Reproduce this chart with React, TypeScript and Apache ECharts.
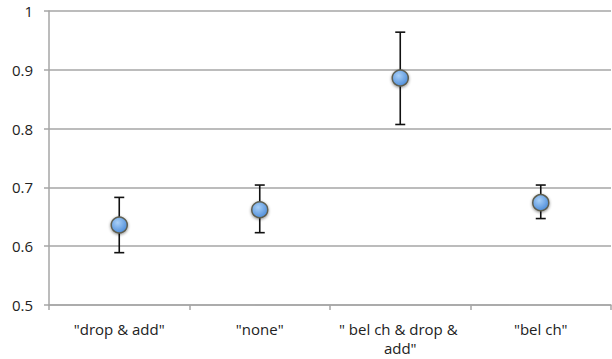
import React, { useEffect, useRef } from "react";
import * as echarts from "echarts";

const categories = ['"drop & add"', '"none"', '" bel ch & drop & add"', '"bel ch"'];
const means = [0.636, 0.662, 0.886, 0.674];
const lows = [0.589, 0.623, 0.807, 0.647];
const highs = [0.683, 0.704, 0.964, 0.704];
const yMin = 0.5;
const yMax = 1;
const yInterval = 0.1;

export default function App() {
  const ref = useRef<HTMLDivElement>(null);
  useEffect(() => {
    if (!ref.current) return;
    const chart = echarts.init(ref.current, null, { renderer: "svg" });
    const font = "'Open Sans', 'Liberation Sans', sans-serif";
    chart.setOption({
      animation: false,
      grid: { left: 49, right: 1, top: 11, bottom: 54, containLabel: false },
      xAxis: {
        type: "category",
        data: categories,
        boundaryGap: true,
        axisLine: { show: true, lineStyle: { color: "#a6a6a6", width: 1.5 } },
        axisTick: { show: true, length: 5, lineStyle: { color: "#a6a6a6", width: 1.5 } },
        axisLabel: {
          interval: 0,
          margin: 14,
          color: "#222",
          fontSize: 15,
          fontFamily: font,
          width: 135,
          overflow: "break",
          lineHeight: 19,
        },
        splitLine: { show: false },
      },
      yAxis: {
        type: "value",
        min: yMin,
        max: yMax,
        interval: yInterval,
        axisLine: { show: true, lineStyle: { color: "#a6a6a6", width: 1.5 } },
        axisTick: { show: true, length: 5, lineStyle: { color: "#a6a6a6", width: 1.5 } },
        axisLabel: { color: "#222", fontSize: 15, fontFamily: font, margin: 16 },
        splitLine: { show: true, lineStyle: { color: "#a6a6a6", width: 1.5 } },
      },
      series: [
        {
          type: "custom",
          z: 2,
          data: categories.map((_, i) => [i, lows[i], highs[i]]),
          renderItem: (params: any, api: any) => {
            const x = api.value(0);
            const lo = api.coord([x, api.value(1)]);
            const hi = api.coord([x, api.value(2)]);
            const cap = 5;
            const style = { stroke: "#111", lineWidth: 1.6 };
            return {
              type: "group",
              children: [
                { type: "line", shape: { x1: lo[0], y1: lo[1], x2: hi[0], y2: hi[1] }, style },
                { type: "line", shape: { x1: hi[0] - cap, y1: hi[1], x2: hi[0] + cap, y2: hi[1] }, style },
                { type: "line", shape: { x1: lo[0] - cap, y1: lo[1], x2: lo[0] + cap, y2: lo[1] }, style },
              ],
            };
          },
        },
        {
          type: "scatter",
          z: 5,
          data: means,
          symbol: "circle",
          symbolSize: 16,
          itemStyle: {
            color: new echarts.graphic.RadialGradient(0.4, 0.35, 0.7, [
              { offset: 0, color: "#a9d0f7" },
              { offset: 1, color: "#4a8ad8" },
            ]),
            borderColor: "#5e5e50",
            borderWidth: 1.5,
            shadowBlur: 3,
            shadowColor: "rgba(0,0,0,0.45)",
            shadowOffsetX: 0,
            shadowOffsetY: 1,
            opacity: 1,
          },
        },
      ],
    });
    return () => chart.dispose();
  }, []);
  return <div ref={ref} style={{ width: 612, height: 359, position: "absolute", left: 0, top: 0 }} />;
}
